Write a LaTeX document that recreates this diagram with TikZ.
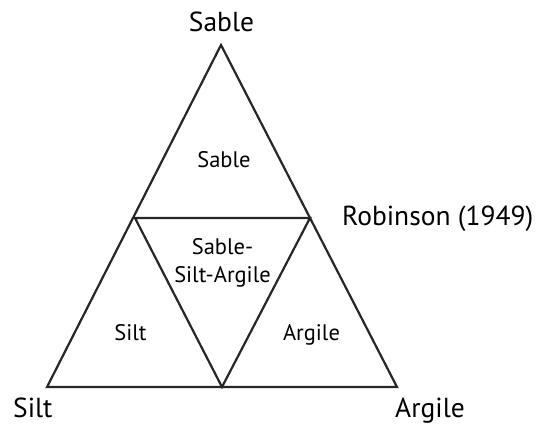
\documentclass[tikz,border=0pt]{standalone}
\usepackage{fontspec}
\setmainfont{PT Sans}
\begin{document}
\begin{tikzpicture}[x=1pt,y=-1pt,
  edge/.style={line width=2.2pt,line join=miter,black!85},
  biglabel/.style={inner sep=0pt,anchor=base,font=\fontsize{27.5}{30}\selectfont},
  smalllabel/.style={inner sep=0pt,anchor=base,font=\fontsize{22.5}{28}\selectfont}]
\useasboundingbox (0,0) rectangle (536,430);
\coordinate (A) at (221,45);
\coordinate (BL) at (47,387);
\coordinate (BR) at (397,387);
\coordinate (L) at (135,218);
\coordinate (R) at (310,218);
\coordinate (B) at (222,387);
\draw[edge] (A) -- (BL) -- (BR) -- cycle;
\draw[edge] (L) -- (R) -- (B) -- cycle;
\node[biglabel] (tSable) at (221.5,32) {Sable};
\node[biglabel,anchor=base west] (tRob) at (342,226) {Robinson (1949)};
\node[biglabel,anchor=base west] (tSilt) at (13,418) {Silt};
\node[biglabel,anchor=base west] (tArg) at (395,418) {Argile};
\node[smalllabel] (iSable) at (224,168) {Sable};
\node[smalllabel] (iMix1) at (222.5,255) {Sable-};
\node[smalllabel] (iMix2) at (222.5,283) {Silt-Argile};
\node[smalllabel] (iSilt) at (130.5,341) {Silt};
\node[smalllabel] (iArg) at (311.5,341) {Argile};
\end{tikzpicture}
\end{document}
